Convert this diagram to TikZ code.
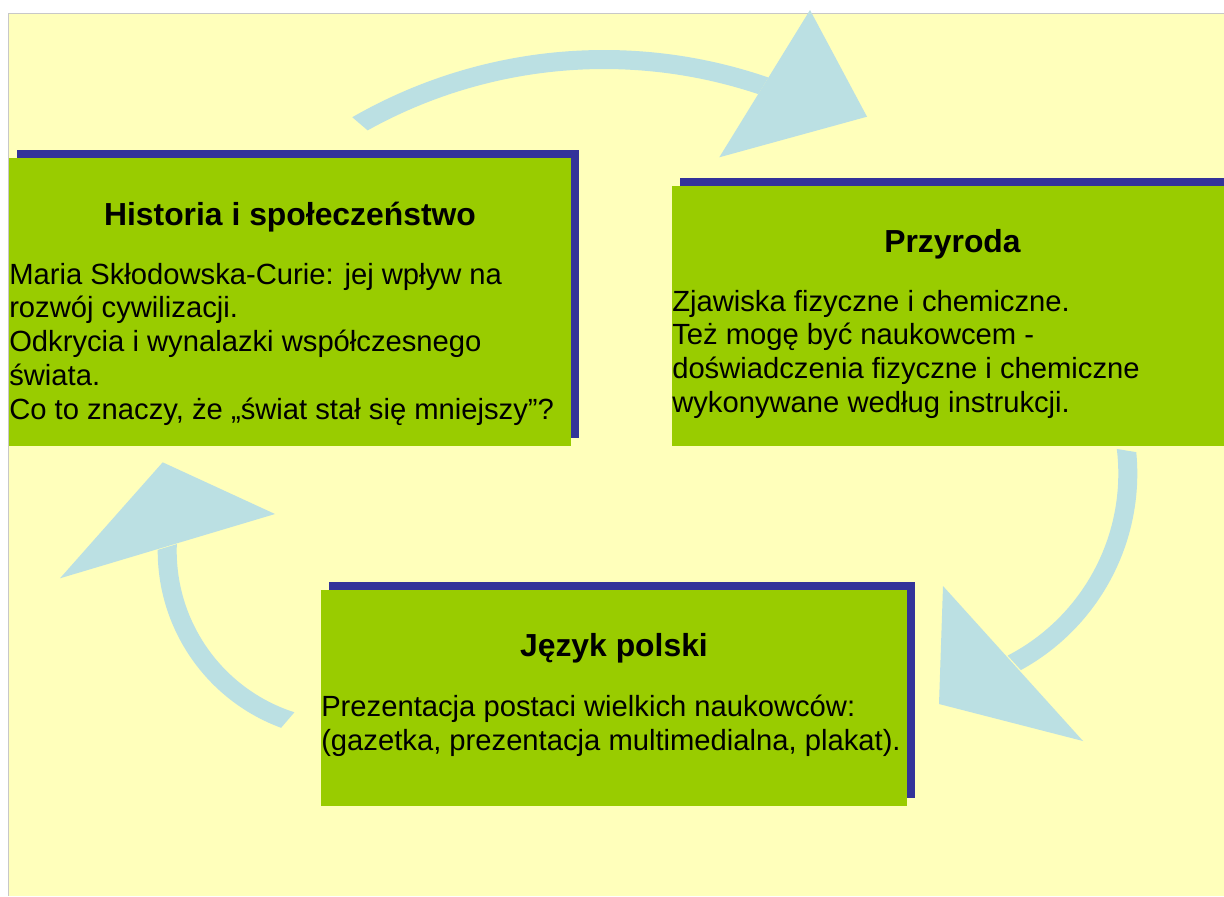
\documentclass[tikz,border=0pt]{standalone}
\usepackage{fontspec}
\setmainfont{Liberation Sans}
\usetikzlibrary{calc,shadows}
\definecolor{bgyellow}{HTML}{FFFFBB}
\definecolor{boxgreen}{HTML}{99CC00}
\definecolor{boxnavy}{HTML}{333399}
\definecolor{arrowblue}{HTML}{BBE0E3}
\definecolor{bordergray}{HTML}{C8C8C8}
\tikzset{
  greenbox/.style={rectangle, fill=boxgreen, inner sep=0pt, anchor=north west,
    general shadow={fill=boxnavy, shadow xshift=6pt, shadow yshift=6pt}},
  titletext/.style={inner sep=0pt, anchor=base, font=\bfseries\fontsize{23.9pt}{28pt}\selectfont},
  bodytext/.style={inner sep=0pt, anchor=base west, font=\fontsize{21.9pt}{26pt}\selectfont},
  arrowfill/.style={fill=arrowblue, draw=none}
}
\begin{document}
\begin{tikzpicture}[x=0.75pt,y=-0.75pt]
\useasboundingbox (0,0) rectangle (1224,896);
\clip (0,0) rectangle (1224,896);
% page background
\fill[white] (0,0) rectangle (1224,896);
\fill[bordergray] (8,13) rectangle (1224,896);
\fill[bgyellow] (9,14) rectangle (1224,896);

% arrow centres
\coordinate (ct) at (604,555);
\coordinate (cr) at (913.3,473.6);
\coordinate (cl) at (346.2,550.9);

% top arrow
\fill[arrowfill] ($(ct)+(119.9:378.75pt)$) arc[start angle=119.9, end angle=71, radius=378.75pt]
  -- ($(ct)+(71.5:364.5pt)$) arc[start angle=71.5, end angle=119.1, radius=364.5pt] -- cycle;
\coordinate (th1) at (719.3,157.3);
\coordinate (th2) at (810,10);
\coordinate (th3) at (867,116.7);
\fill[arrowfill] (th1) -- (th2) -- (th3) -- cycle;

% right arrow
\fill[arrowfill] ($(cr)+(5.5:168pt)$) arc[start angle=5.5, end angle=-61.3, radius=168pt]
  -- ($(cr)+(-62.6:153.75pt)$) arc[start angle=-62.6, end angle=6.9, radius=153.75pt] -- cycle;
\coordinate (rh1) at (943,586);
\coordinate (rh2) at (939,704);
\coordinate (rh3) at (1083,741);
\fill[arrowfill] (rh1) -- (rh2) -- (rh3) -- cycle;

% left arrow
\fill[arrowfill] ($(cl)+(179.7:141.375pt)$) arc[start angle=179.7, end angle=249.8, radius=141.375pt]
  -- ($(cl)+(252.2:127.125pt)$) arc[start angle=252.2, end angle=177.7, radius=127.125pt] -- cycle;
\coordinate (lh1) at (60,578.3);
\coordinate (lh2) at (162.7,462.3);
\coordinate (lh3) at (275,514);
\fill[arrowfill] (lh1) -- (lh2) -- (lh3) -- cycle;

% boxes
\node[greenbox, minimum width=421.5pt, minimum height=216pt] (hist) at (9,158) {};
\node[greenbox, minimum width=420.75pt, minimum height=195pt] (przy) at (672,186) {};
\node[greenbox, minimum width=439.5pt, minimum height=162pt] (jez) at (321,590) {};

% box 1 text
\node[titletext] (histT) at (290,225) {Historia i społeczeństwo};
\node[bodytext] (hist1) at (9,284) {Maria Skłodowska-Curie: jej wpływ na};
\node[bodytext] (hist2) at (9,317.8) {rozwój cywilizacji.};
\node[bodytext] (hist3) at (9,351.6) {Odkrycia i wynalazki współczesnego};
\node[bodytext] (hist4) at (9,385.4) {świata.};
\node[bodytext] (hist5) at (9,419.2) {Co to znaczy, że „świat stał się mniejszy”?};

% box 2 text
\node[titletext] (przyT) at (952.5,252.5) {Przyroda};
\node[bodytext] (przy1) at (672,311) {Zjawiska fizyczne i chemiczne.};
\node[bodytext] (przy2) at (672,344.7) {Też mogę być naukowcem -};
\node[bodytext] (przy3) at (672,378.4) {doświadczenia fizyczne i chemiczne};
\node[bodytext] (przy4) at (672,412.1) {wykonywane według instrukcji.};

% box 3 text
\node[titletext] (jezT) at (614,656) {Język polski};
\node[bodytext] (jez1) at (321,716.5) {Prezentacja postaci wielkich naukowców:};
\node[bodytext] (jez2) at (321,750) {(gazetka, prezentacja multimedialna, plakat).};
\end{tikzpicture}
\end{document}
